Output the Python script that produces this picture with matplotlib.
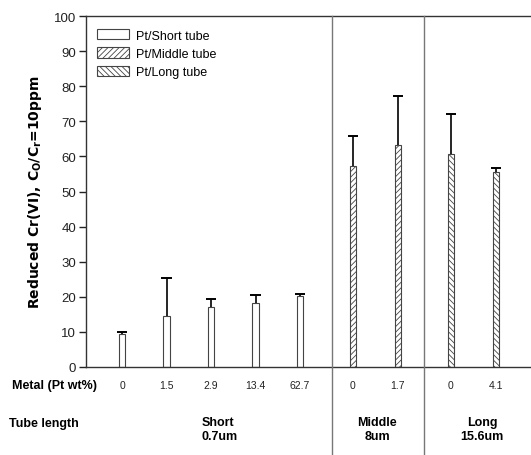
import matplotlib
matplotlib.use("Agg")
import matplotlib.pyplot as plt
from matplotlib.patches import Patch
from matplotlib.lines import Line2D
import matplotlib.transforms as mtransforms

# ---- data ----
metal_labels = ["0", "1.5", "2.9", "13.4", "62.7", "0", "1.7", "0", "4.1"]
groups = ["short", "short", "short", "short", "short", "middle", "middle", "long", "long"]
values = [9.4, 14.4, 17.2, 18.1, 20.3, 57.3, 63.2, 60.6, 55.6]
err_up = [0.7, 10.9, 2.2, 2.4, 0.4, 8.5, 13.9, 11.4, 1.0]
group_labels = ["Short\n0.7um", "Middle\n8um", "Long\n15.6um"]
legend_labels = ["Pt/Short tube", "Pt/Middle tube", "Pt/Long tube"]

# ---- layout ----
positions = [0, 1, 2, 3, 4, 5.19, 6.20, 7.39, 8.40]
dividers = [4.72, 6.79]
hatches = {"short": "", "middle": "//////", "long": "\\\\\\\\\\\\"}
cap_half = 0.12

plt.rcParams["hatch.color"] = "#555555"
plt.rcParams["hatch.linewidth"] = 0.6
plt.rcParams["font.family"] = ["Liberation Sans", "DejaVu Sans"]

W, H = 531, 456
fig = plt.figure(figsize=(W / 100, H / 100), dpi=100)
L, R, T, B = 86, 531, 17, 368
ax = fig.add_axes([L / W, (H - B) / H, (R - L) / W, (B - T) / H])

for x, v, e, g in zip(positions, values, err_up, groups):
    ax.bar(x, v, width=0.14, color="white", edgecolor="#444444",
           linewidth=0.8, hatch=hatches[g], zorder=2)
    ax.vlines(x, v, v + e, colors="black", linewidth=1.2, zorder=3)
    ax.hlines(v + e, x - cap_half, x + cap_half, colors="black",
              linewidth=1.4, zorder=3)

ax.set_xlim(-0.81, 9.19)
ax.set_ylim(0, 100)
ax.set_yticks(range(0, 101, 10))
ax.set_xticks([])
ax.tick_params(axis="y", direction="out", length=5, width=1, labelsize=9.5,
               pad=2, colors="#222222")
for s in ["left", "bottom", "top"]:
    ax.spines[s].set_color("#333333")
    ax.spines[s].set_linewidth(1.0)
ax.spines["right"].set_visible(False)

# divider lines from top to bottom of figure
bt = mtransforms.blended_transform_factory(ax.transData, fig.transFigure)
for d in dividers:
    fig.add_artist(Line2D([d, d], [0, (H - T) / H], transform=bt,
                          color="#777777", linewidth=1.0))

ax.set_ylabel(r"Reduced Cr(VI), C$_\mathbf{O}$/C$_\mathbf{r}$=10ppm",
              fontsize=10, fontweight="bold", family="DejaVu Sans")
ax.yaxis.set_label_coords((35 - L) / (R - L), 0.5)
ax.yaxis.label.set_va("center")

# legend
handles = [Patch(facecolor="white", edgecolor="#444444", linewidth=0.8, hatch=h)
           for h in [hatches["short"], hatches["middle"], hatches["long"]]]
ax.legend(handles, legend_labels, loc="upper left", bbox_to_anchor=(0.0, 0.995),
          frameon=False, fontsize=9, handlelength=2.5, handleheight=0.9,
          labelspacing=0.47, handletextpad=0.6, borderaxespad=0.5)

# bottom labels
fig.text(12 / W, 1 - 386 / H, "Metal (Pt wt%)", fontsize=9, fontweight="bold",
         ha="left", va="center")
for x, lab in zip(positions, metal_labels):
    fig.text(x, 1 - 386 / H, lab, transform=bt, fontsize=7.5,
             ha="center", va="center", color="#222222")
fig.text(9 / W, 1 - 424 / H, "Tube length", fontsize=9, fontweight="bold",
         ha="left", va="center")
group_x = [202, 377, 482]
group_ha = ["left", "center", "center"]
for gx, gl, ha in zip(group_x, group_labels, group_ha):
    fig.text(gx / W, 1 - 417 / H, gl, fontsize=9, fontweight="bold",
             ha=ha, va="top", multialignment=ha, linespacing=1.25)

fig.savefig("out.png", dpi=100)
